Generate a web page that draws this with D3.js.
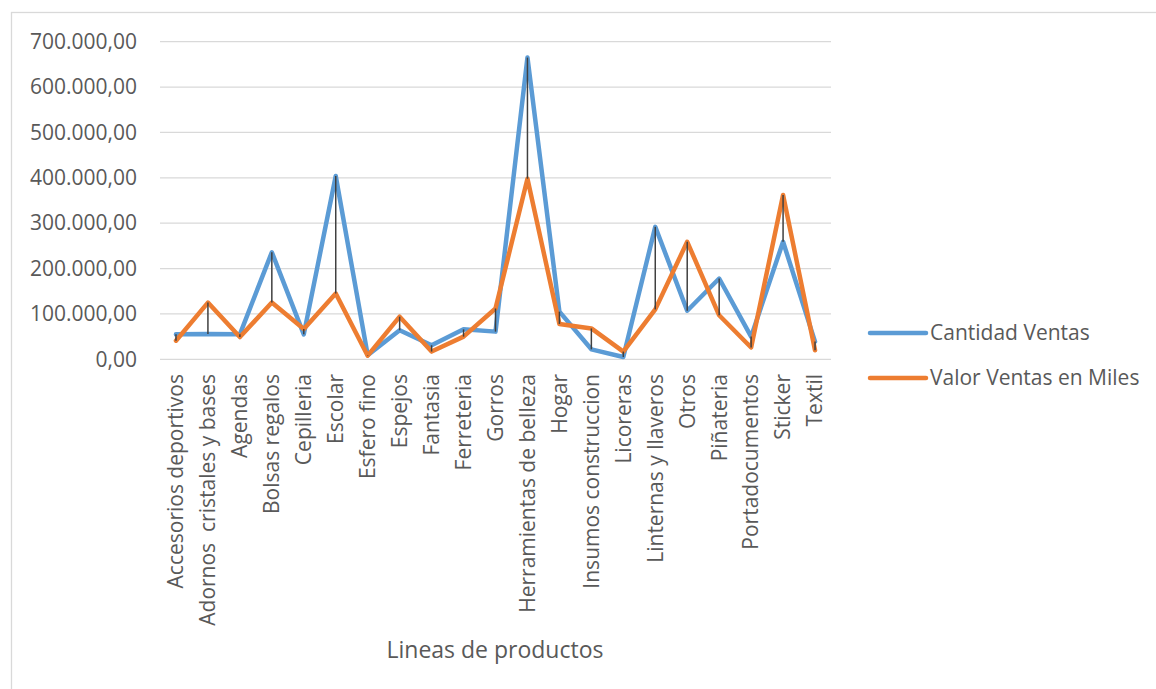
<!DOCTYPE html>
<html>
<head>
  <meta charset="utf-8">
  <title>Lineas de productos</title>
  <script src="https://d3js.org/d3.v7.min.js"></script>
  <style>
    body { margin: 0; background: #fff; }
    text { font-family: "Open Sans", sans-serif; fill: #595959; }
  </style>
</head>
<body>
  <div id="chart"></div>

  <script>
    // data
    var categorias = ['Accesorios deportivos', 'Adornos  cristales y bases', 'Agendas', 'Bolsas regalos',
      'Cepilleria', 'Escolar', 'Esfero fino', 'Espejos', 'Fantasia', 'Ferreteria', 'Gorros',
      'Herramientas de belleza', 'Hogar', 'Insumos construccion', 'Licoreras', 'Linternas y llaveros',
      'Otros', 'Piñateria', 'Portadocumentos', 'Sticker', 'Textil'];
    var cantidadVentas = [55000, 56000, 55000, 236000, 55000, 404000, 9000, 64000, 31000, 66000, 61000,
      665000, 105000, 22000, 5000, 292000, 107000, 178000, 50000, 259000, 39000];
    var valorVentas = [41000, 125000, 49000, 125000, 67000, 145000, 8000, 94000, 17000, 50000, 112000,
      398000, 78000, 68000, 17000, 110000, 259000, 97000, 26000, 362000, 20000];
    var yTicks = [0, 100000, 200000, 300000, 400000, 500000, 600000, 700000];
    var series = [
      { name: 'Cantidad Ventas', values: cantidadVentas, color: '#5B9BD5' },
      { name: 'Valor Ventas en Miles', values: valorVentas, color: '#ED7D31' }
    ];

    var W = 1156, H = 689;
    var svg = d3.select('#chart').append('svg')
      .attr('width', W)
      .attr('height', H);

    // chart area border
    svg.append('rect')
      .attr('x', 11.5).attr('y', 12.5)
      .attr('width', W + 20).attr('height', H + 20)
      .attr('fill', 'none')
      .attr('stroke', '#d9d9d9')
      .attr('stroke-width', 1.3);

    var x = d3.scaleBand()
      .domain(categorias)
      .range([160, 831])
      .padding(0);

    var y = d3.scaleLinear()
      .domain([0, 700000])
      .range([359.3, 41.7]);

    var fmt = function(v) {
      return d3.format(',.2f')(v).replace(/,/g, '#').replace('.', ',').replace(/#/g, '.');
    };

    // gridlines
    svg.append('g').selectAll('line')
      .data(yTicks)
      .enter()
      .append('line')
      .attr('x1', 160).attr('x2', 831)
      .attr('y1', function(d) { return y(d); })
      .attr('y2', function(d) { return y(d); })
      .attr('stroke', '#d9d9d9')
      .attr('stroke-width', 1.3);

    // y axis labels
    var yAxis = svg.append('g')
      .attr('transform', 'translate(160,0)')
      .call(d3.axisLeft(y).tickValues(yTicks).tickFormat(fmt).tickSize(0).tickPadding(23));
    yAxis.select('.domain').remove();
    yAxis.selectAll('text')
      .style('font-size', '21px')
      .attr('fill', '#595959');

    // x axis labels (vertical)
    svg.append('g').selectAll('text')
      .data(categorias)
      .enter()
      .append('text')
      .attr('transform', function(d) {
        return 'translate(' + (x(d) + x.bandwidth() / 2) + ',374) rotate(-90)';
      })
      .attr('dy', '0.35em')
      .attr('text-anchor', 'end')
      .style('font-size', '21px')
      .style('white-space', 'pre')
      .text(function(d) { return d; });

    var line = d3.line()
      .x(function(d, i) { return x(categorias[i]) + x.bandwidth() / 2; })
      .y(function(d) { return y(d); });

    series.forEach(function(s) {
      svg.append('path')
        .datum(s.values)
        .attr('d', line)
        .attr('fill', 'none')
        .attr('stroke', s.color)
        .attr('stroke-width', 4.5)
        .attr('stroke-linejoin', 'round')
        .attr('stroke-linecap', 'round');
    });

    // high-low lines
    svg.append('g').selectAll('line')
      .data(categorias)
      .enter()
      .append('line')
      .attr('x1', function(d) { return x(d) + x.bandwidth() / 2; })
      .attr('x2', function(d) { return x(d) + x.bandwidth() / 2; })
      .attr('y1', function(d, i) { return y(cantidadVentas[i]); })
      .attr('y2', function(d, i) { return y(valorVentas[i]); })
      .attr('stroke', '#404040')
      .attr('stroke-width', 1.5);

    // axis title
    svg.append('text')
      .attr('x', 495)
      .attr('y', 658)
      .attr('text-anchor', 'middle')
      .style('font-size', '23px')
      .text('Lineas de productos');

    // legend
    var legend = svg.append('g').selectAll('g')
      .data(series)
      .enter()
      .append('g')
      .attr('transform', function(d, i) { return 'translate(870,' + (333 + i * 45) + ')'; });
    legend.append('line')
      .attr('x1', 0).attr('x2', 56)
      .attr('stroke', function(d) { return d.color; })
      .attr('stroke-width', 4.5)
      .attr('stroke-linecap', 'round');
    legend.append('text')
      .attr('x', 60)
      .attr('dy', '0.35em')
      .style('font-size', '21px')
      .text(function(d) { return d.name; });
  </script>
</body>
</html>
